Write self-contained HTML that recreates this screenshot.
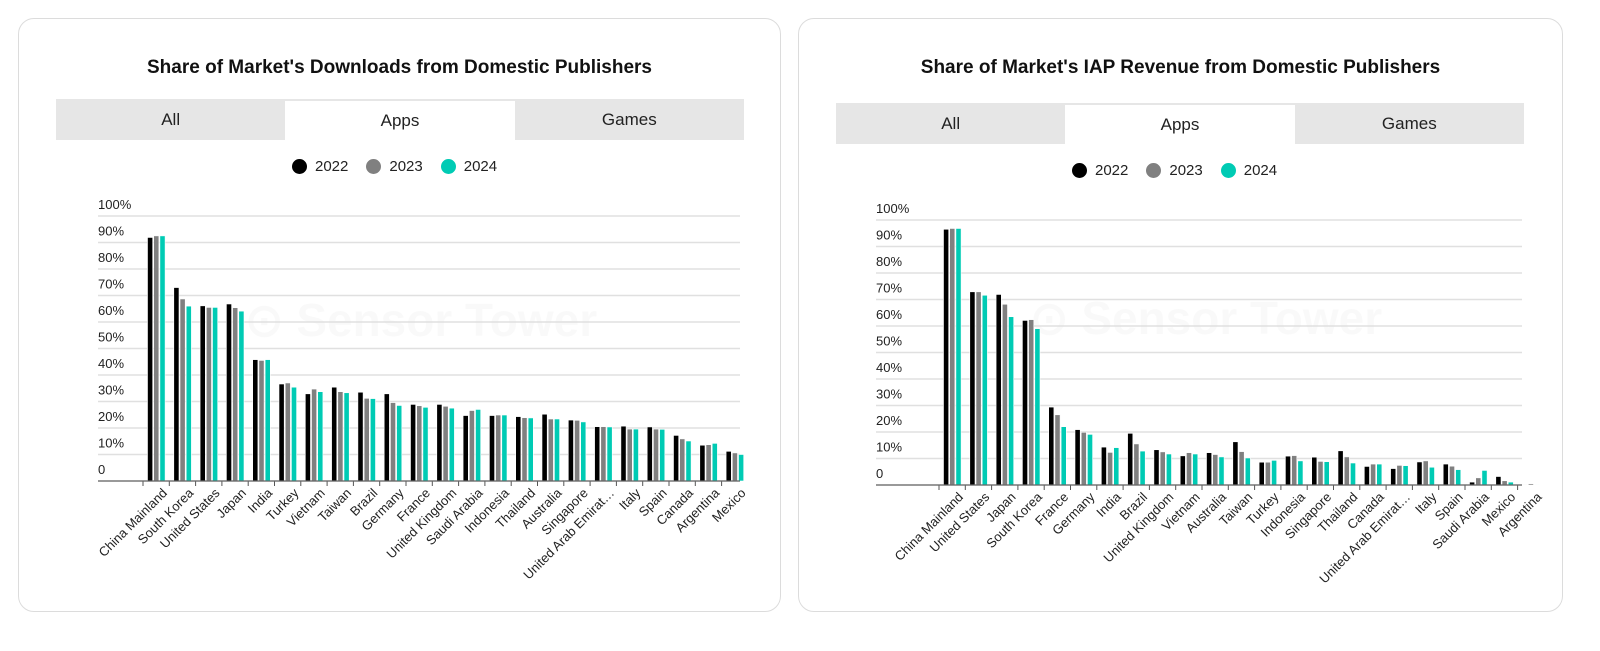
<!DOCTYPE html>
<html><head><meta charset="utf-8">
<style>
body{margin:0;width:1600px;height:651px;background:#fff;font-family:"Liberation Sans",sans-serif;position:relative;overflow:hidden}
.card{position:absolute;top:18px;height:594px;border:1.5px solid #dcdcdc;border-radius:16px;box-sizing:border-box;background:#fff}
.title{position:absolute;left:0;right:0;text-align:center;font-weight:bold;font-size:19px;color:#111}
.tabs{position:absolute;height:41px;background:#e6e6e6;display:flex}
.tab{flex:1;text-align:center;line-height:41px;font-size:17px;color:#222}
.tab.active{background:#fff;margin-top:2px;line-height:39px}
.legend{position:absolute;display:flex;gap:18px;font-size:15px;color:#222;align-items:center}
.legend span{display:flex;align-items:center;gap:8px}
.dot{width:15px;height:15px;border-radius:50%;display:inline-block}
svg{position:absolute;left:0;top:0}
</style></head><body>
<div class="card" style="left:18px;width:763px">
 <div class="title" style="top:38px">Share of Market's Downloads from Domestic Publishers</div>
 <div class="tabs" style="left:37px;top:80px;width:688px">
  <div class="tab">All</div>
  <div class="tab active">Apps</div>
  <div class="tab">Games</div>
 </div>
 <div class="legend" style="left:273px;top:139px">
  <span><i class="dot" style="background:#000"></i>2022</span>
  <span><i class="dot" style="background:#808080"></i>2023</span>
  <span><i class="dot" style="background:#00cbb4"></i>2024</span>
 </div>
</div>
<div class="card" style="left:798px;width:765px">
 <div class="title" style="top:38px">Share of Market's IAP Revenue from Domestic Publishers</div>
 <div class="tabs" style="left:37px;top:84px;width:688px">
  <div class="tab">All</div>
  <div class="tab active">Apps</div>
  <div class="tab">Games</div>
 </div>
 <div class="legend" style="left:273px;top:143px">
  <span><i class="dot" style="background:#000"></i>2022</span>
  <span><i class="dot" style="background:#808080"></i>2023</span>
  <span><i class="dot" style="background:#00cbb4"></i>2024</span>
 </div>
</div>
<svg id="chart" width="1600" height="651"></svg>
<script>
const dlCategories=["China Mainland","South Korea","United States","Japan","India","Turkey","Vietnam","Taiwan","Brazil","Germany","France","United Kingdom","Saudi Arabia","Indonesia","Thailand","Australia","Singapore","United Arab Emirat…","Italy","Spain","Canada","Argentina","Mexico"];
const dl2022=[91.9,73,66.1,66.8,45.8,36.6,32.9,35.4,33.5,32.9,28.9,28.9,24.7,24.7,24.3,25.2,23,20.5,20.7,20.4,17.2,13.5,11.2];
const dl2023=[92.5,68.7,65.5,65.4,45.5,37,34.7,33.7,31.2,29.6,28.4,28.2,26.6,24.9,23.9,23.4,22.9,20.5,19.6,19.6,15.9,13.7,10.6];
const dl2024=[92.5,66,65.5,64.1,45.8,35.4,33.7,33.3,31.1,28.5,27.8,27.5,27,24.9,23.8,23.4,22.3,20.4,19.6,19.5,15.1,14.2,10];
const revCategories=["China Mainland","United States","Japan","South Korea","France","Germany","India","Brazil","United Kingdom","Vietnam","Australia","Taiwan","Turkey","Indonesia","Singapore","Thailand","Canada","United Arab Emirat…","Italy","Spain","Saudi Arabia","Mexico","Argentina"];
const rev2022=[96.5,72.9,71.9,62.1,29.4,20.9,14.3,19.5,13.3,11,12.2,16.3,8.6,10.9,10.5,12.9,7,6.2,8.7,7.9,1.1,3.2,0.2];
const rev2023=[96.8,72.9,68.2,62.4,26.5,19.9,12.3,15.5,12.5,12.2,11.5,12.6,8.6,11.1,8.9,10.6,7.9,7.4,9.1,7.1,2.7,1.6,0.5];
const rev2024=[96.8,71.6,63.5,59,22,19.1,14.1,12.8,11.7,11.7,10.6,10.2,9.3,9.1,8.8,8.3,7.9,7.3,6.7,5.8,5.5,1.1,0.2];
const yTicks=[0,10,20,30,40,50,60,70,80,90,100];
const colors=["#000","#808080","#00cbb4"];
const svg=document.getElementById('chart');
const NS="http://www.w3.org/2000/svg";
function mk(tag,attrs){const e=document.createElementNS(NS,tag);for(const k in attrs)e.setAttribute(k,attrs[k]);svg.appendChild(e);return e;}
function draw(cfg,prefix){
  const y=v=>cfg.y0-(cfg.y0-cfg.y100)*v/100;
  const band=26.3;
  const x=i=>cfg.bandStart+i*band;
  const wm=mk('text',{x:cfg.wmX,y:cfg.wmY,'font-size':46,'font-weight':'bold',fill:'#000','fill-opacity':0.022});
  wm.textContent="⊙ Sensor Tower";
  
  
  yTicks.forEach(t=>{
    const l=mk('line',{x1:cfg.gx1,x2:cfg.gx2,y1:y(t),y2:y(t),stroke:'#e0e0e0','stroke-width':1.5});
    
    
    const tx=mk('text',{x:cfg.gx1,y:y(t)-7,'font-size':13,fill:'#222'});
    tx.textContent=t===0?"0":t+"%";
    
    
  });
  const series=[cfg.s1,cfg.s2,cfg.s3];
  cfg.cats.forEach((c,i)=>{
    series.forEach((s,k)=>{
      const r=mk('rect',{x:x(i)+4.5+k*6.2,y:y(s[i]),width:5.2,height:cfg.y0-y(s[i]),fill:colors[k],stroke:'#fff','stroke-width':0.6});
      
      
    });
    const tk=mk('line',{x1:x(i),x2:x(i),y1:cfg.y0,y2:cfg.y0+5,stroke:'#555'});
    
    
    const cx=x(i)+band/2+5, cy=cfg.y0+6;
    const lb=mk('text',{x:cx,y:cy,'font-size':13,fill:'#222','text-anchor':'end',transform:`rotate(-45 ${cx} ${cy})`,'dominant-baseline':'hanging'});
    lb.textContent=c;
    
    
  });
  const ax=mk('line',{x1:cfg.gx1,x2:cfg.gx2,y1:cfg.y0,y2:cfg.y0,stroke:'#666','stroke-width':1.2});
  
  
}
draw({cats:dlCategories,s1:dl2022,s2:dl2023,s3:dl2024,y0:481,y100:216,bandStart:143,gx1:98,gx2:740,wmX:245,wmY:336},'downloads');
draw({cats:revCategories,s1:rev2022,s2:rev2023,s3:rev2024,y0:485,y100:220,bandStart:939,gx1:876,gx2:1522,wmX:1030,wmY:334},'revenue');
</script>
</body></html>
